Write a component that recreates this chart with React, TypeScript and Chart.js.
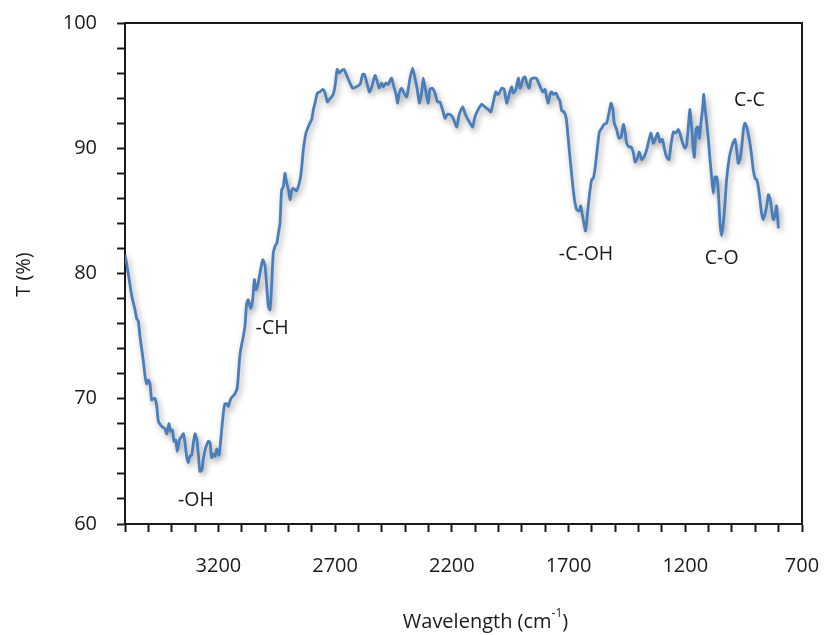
import React, { useEffect, useRef } from 'react';
import { Chart, registerables } from 'chart.js';

Chart.register(...registerables);

const wavenumbers = [3600,3586,3571,3557,3550,3543,3536,3522,3514,3507,3500,3493,3486,3479,3471,3464,3457,3443,3429,3421,3412,3404,3397,3390,3383,3376,3367,3357,3350,3343,3336,3329,3322,3314,3307,3300,3293,3286,3279,3271,3265,3257,3243,3236,3229,3222,3214,3207,3197,3190,3179,3172,3164,3157,3147,3129,3119,3107,3093,3086,3079,3072,3062,3053,3046,3039,3032,3022,3010,3000,2993,2986,2979,2972,2965,2957,2950,2943,2936,2929,2922,2915,2907,2900,2893,2886,2879,2865,2850,2843,2836,2825,2815,2808,2800,2793,2786,2776,2765,2753,2743,2733,2725,2715,2708,2700,2691,2682,2672,2662,2648,2636,2625,2610,2593,2582,2575,2565,2553,2543,2529,2519,2511,2500,2493,2482,2472,2465,2458,2451,2439,2432,2425,2415,2405,2393,2379,2368,2358,2348,2339,2329,2322,2311,2301,2294,2284,2272,2262,2251,2237,2229,2219,2208,2197,2186,2179,2168,2153,2144,2134,2122,2111,2101,2087,2072,2058,2044,2033,2022,2012,2005,1997,1986,1976,1965,1954,1944,1937,1926,1915,1908,1901,1894,1887,1879,1869,1861,1851,1839,1830,1819,1811,1801,1794,1787,1779,1772,1765,1754,1744,1737,1729,1719,1710,1701,1694,1687,1680,1672,1665,1654,1648,1641,1634,1627,1620,1611,1601,1594,1587,1579,1568,1558,1548,1537,1527,1518,1511,1504,1494,1484,1475,1465,1458,1451,1441,1432,1423,1415,1405,1397,1387,1377,1365,1355,1347,1337,1327,1318,1308,1298,1290,1280,1270,1261,1251,1241,1230,1223,1211,1201,1194,1187,1180,1172,1166,1161,1154,1147,1140,1133,1125,1121,1115,1108,1101,1094,1087,1080,1073,1065,1058,1051,1044,1037,1030,1023,1011,1001,994,987,980,973,966,958,951,944,937,930,923,915,909,901,894,887,880,873,866,858,851,844,837,830,823,816,809,801];

const transmittance = [81.5,80.0,78.2,77.1,76.4,76.2,75.0,73.1,71.8,71.2,71.5,71.2,69.9,70.0,70.0,69.4,68.2,67.8,67.6,67.2,68.0,67.4,67.5,66.6,66.7,65.8,66.7,67.0,67.2,66.5,65.4,64.9,65.4,65.5,66.5,67.2,66.8,65.6,64.2,64.3,65.1,65.9,66.6,66.5,65.3,65.6,65.4,66.0,65.5,66.7,68.8,69.6,69.6,69.4,70.0,70.4,70.9,73.6,75.0,75.8,77.6,77.9,77.2,77.9,79.5,78.7,79.0,80.0,81.1,80.6,79.0,77.4,77.1,79.0,81.6,82.2,82.4,83.2,84.0,86.7,86.9,88.0,87.2,86.7,85.9,86.6,86.8,86.6,87.5,88.5,89.9,91.2,91.7,92.0,92.3,93.1,93.6,94.4,94.5,94.7,94.4,93.7,93.9,94.1,94.3,95.0,96.3,96.0,96.2,96.3,95.7,95.2,94.8,94.9,95.1,95.9,95.9,95.3,94.5,94.9,95.8,95.3,94.8,95.2,94.9,95.2,95.1,95.4,95.6,95.1,94.3,93.6,94.4,94.8,94.4,94.1,95.6,96.4,95.6,94.7,93.6,94.5,95.6,94.5,93.6,94.7,94.8,94.4,93.7,93.7,92.9,92.4,92.7,92.7,92.5,92.0,91.7,92.7,93.3,92.8,92.4,92.0,91.7,92.5,93.1,93.5,93.3,93.1,92.9,93.7,94.5,94.3,94.4,94.8,94.7,93.6,94.3,94.9,94.4,94.7,95.6,94.8,95.1,95.6,95.7,95.2,94.8,95.5,95.6,95.6,95.3,94.8,94.5,94.7,94.1,93.6,94.3,94.5,94.3,94.4,94.0,93.8,93.0,92.9,92.4,90.7,89.3,88.0,86.7,85.6,85.1,85.0,85.4,84.7,84.0,83.4,84.6,86.2,87.5,87.6,88.3,89.6,91.3,91.6,91.9,92.0,92.8,93.6,93.2,92.0,91.5,90.8,90.9,91.9,91.3,90.4,90.1,90.1,89.7,88.9,89.2,89.7,89.1,89.3,89.9,90.7,91.2,90.4,90.8,91.2,90.5,90.7,90.0,89.3,89.1,90.3,91.3,91.2,91.5,91.2,90.4,90.0,90.3,91.7,93.1,91.5,89.9,89.3,91.5,91.7,90.8,92.0,93.3,94.3,93.1,92.0,90.7,89.1,87.7,86.4,87.7,87.7,86.4,84.0,83.0,84.0,85.6,87.5,89.3,90.1,90.5,90.7,89.9,88.8,89.1,90.1,91.5,92.0,91.7,91.1,90.4,89.3,88.3,87.6,87.5,86.9,85.9,84.8,84.3,84.8,85.4,86.3,86.0,85.1,84.3,84.6,85.4,83.6];

const xTickLabels = [3200, 2700, 2200, 1700, 1200, 700];
const yTickLabels = [60, 70, 80, 90, 100];

const annotationLabels = ['-OH', '-CH', '-C-OH', 'C-O', 'C-C'];
const annotationX = [3296, 2970, 1625, 1044, 925];
const annotationY = [61.9, 75.6, 81.55, 81.2, 93.8];

const FONT = '"Open Sans", "DejaVu Sans", sans-serif';
const TEXT = '#1a1a1a';
const AXIS = '#1a1a1a';
const LINE = '#4a7ebb';

const decorPlugin = {
  id: 'decor',
  beforeDatasetsDraw(chart: any) {
    const ctx = chart.ctx;
    ctx.save();
    ctx.shadowColor = 'rgba(0,0,0,0.38)';
    ctx.shadowBlur = 6;
    ctx.shadowOffsetX = 2;
    ctx.shadowOffsetY = 3;
  },
  afterDatasetsDraw(chart: any) {
    chart.ctx.restore();
  },
  afterDraw(chart: any) {
    const ctx = chart.ctx;
    const { left, right, top, bottom } = chart.chartArea;
    ctx.save();
    ctx.strokeStyle = AXIS;
    ctx.lineWidth = 2;
    ctx.beginPath();
    ctx.moveTo(left, top);
    ctx.lineTo(right, top);
    ctx.lineTo(right, bottom);
    ctx.stroke();

    const xs = chart.scales.x;
    const ys = chart.scales.y;
    ctx.fillStyle = TEXT;
    ctx.font = `19.5px ${FONT}`;
    ctx.textAlign = 'center';
    ctx.textBaseline = 'middle';
    annotationLabels.forEach((t, i) => {
      ctx.fillText(t, xs.getPixelForValue(annotationX[i]), ys.getPixelForValue(annotationY[i]));
    });

    const main = 'Wavelength (cm';
    const sup = '-1';
    const close = ')';
    ctx.font = `20px ${FONT}`;
    const w1 = ctx.measureText(main).width;
    const w3 = ctx.measureText(close).width;
    ctx.font = `12px ${FONT}`;
    const w2 = ctx.measureText(sup).width;
    const total = w1 + w2 + w3;
    const cx = (left + right) / 2 + 22;
    const cy = 622;
    const x0 = cx - total / 2;
    ctx.textAlign = 'left';
    ctx.font = `20px ${FONT}`;
    ctx.fillText(main, x0, cy);
    ctx.font = `12px ${FONT}`;
    ctx.fillText(sup, x0 + w1, cy - 8);
    ctx.font = `20px ${FONT}`;
    ctx.fillText(close, x0 + w1 + w2, cy);

    ctx.save();
    ctx.translate(24, (top + bottom) / 2 + 1);
    ctx.rotate(-Math.PI / 2);
    ctx.textAlign = 'center';
    ctx.fillText('T (%)', 0, 0);
    ctx.restore();
    ctx.restore();
  },
};

const clearPadding = (s: any) => {
  s.paddingTop = 0;
  s.paddingBottom = 0;
  s.paddingLeft = 0;
  s.paddingRight = 0;
};

export default function App() {
  const ref = useRef<HTMLCanvasElement>(null);
  useEffect(() => {
    document.body.style.margin = '0';
    const points = wavenumbers.map((w, i) => ({ x: w, y: transmittance[i] }));
    const chart = new Chart(ref.current as HTMLCanvasElement, {
      type: 'line',
      data: {
        datasets: [
          {
            data: points,
            borderColor: LINE,
            borderWidth: 2.8,
            pointRadius: 0,
            tension: 0.2,
            fill: false,
          },
        ],
      },
      options: {
        animation: false,
        responsive: false,
        devicePixelRatio: 1,
        layout: { padding: { left: 0, right: 29, top: 23, bottom: 0 } },
        plugins: { legend: { display: false }, tooltip: { enabled: false } },
        scales: {
          x: {
            type: 'linear',
            reverse: true,
            min: 700,
            max: 3600,
            afterFit: (s: any) => {
              s.height = 111;
              clearPadding(s);
            },
            grid: {
              drawOnChartArea: false,
              drawTicks: true,
              tickLength: 8,
              tickColor: AXIS,
              tickWidth: 2,
            },
            border: { display: true, color: AXIS, width: 2 },
            ticks: {
              stepSize: 100,
              autoSkip: false,
              maxRotation: 0,
              padding: 22,
              color: TEXT,
              font: { family: FONT, size: 20 },
              callback: (v: any) => (xTickLabels.includes(Number(v)) ? String(v) : ''),
            },
          },
          y: {
            min: 60,
            max: 100,
            afterFit: (s: any) => {
              s.width = 125;
              clearPadding(s);
            },
            grid: {
              drawOnChartArea: false,
              drawTicks: true,
              tickLength: 8,
              tickColor: AXIS,
              tickWidth: 2,
            },
            border: { display: true, color: AXIS, width: 2 },
            ticks: {
              stepSize: 2,
              autoSkip: false,
              padding: 20,
              color: TEXT,
              font: { family: FONT, size: 20 },
              callback: (v: any) => (yTickLabels.includes(Number(v)) ? String(v) : ''),
            },
          },
        },
      },
      plugins: [decorPlugin],
    });
    return () => chart.destroy();
  }, []);
  return (
    <div style={{ width: 831, height: 635 }}>
      <canvas ref={ref} width={831} height={635} />
    </div>
  );
}
